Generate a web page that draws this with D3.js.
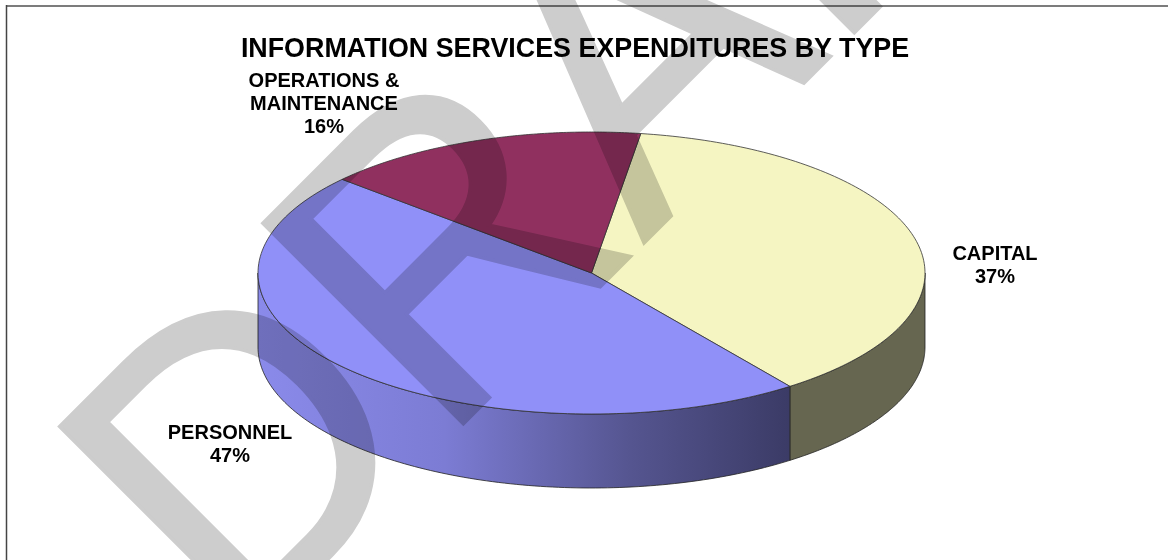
<!DOCTYPE html>
<html><head><meta charset="utf-8">
<script src="https://cdnjs.cloudflare.com/ajax/libs/d3/7.8.5/d3.min.js"></script>
<style>html,body{margin:0;padding:0;background:#fff}svg{display:block}text{font-family:"Liberation Sans",Arial,sans-serif}</style>
</head><body><svg id="c" width="1168" height="560"></svg>
<script>
const categories = ["CAPITAL","PERSONNEL","OPERATIONS & MAINTENANCE"];
const values = [37.5,46.7,15.8];
const topColors = ["#f5f5c2","#9090f8","#90305f"];
const sideStops = [[0,"#8a8aea"],[0.35,"#7c7cd4"],[0.7,"#555590"],[1,"#3b3b66"]];
const capitalSide = "#666650";
const titleText = "INFORMATION SERVICES EXPENDITURES BY TYPE";
const labels = [
 {lines:["CAPITAL","37%"],x:995,y:260},
 {lines:["PERSONNEL","47%"],x:230,y:439},
 {lines:["OPERATIONS &","MAINTENANCE","16%"],x:324,y:87}
];
const cx=591.5,cy=273,rx=333.5,ry=141,depth=74;
const svg=d3.select("#c");
svg.append("path").attr("d","M6,6H1168").attr("fill","none").attr("stroke","#7c7c7c").attr("stroke-width",2);
svg.append("path").attr("d","M6.5,5V560").attr("fill","none").attr("stroke","#444").attr("stroke-width",1.5);
const deg=Math.PI/180;
const slices=d3.pie().sort(null).startAngle(8.5*deg).endAngle((360+8.5)*deg).value(d=>d)(values);
const px=a=>cx+rx*Math.sin(a), py=a=>cy-ry*Math.cos(a);
const sweep=(a,b)=>d3.range(0,121).map(i=>a+(b-a)*i/120);
const defs=svg.append("defs");
const g=defs.append("linearGradient").attr("id","side").attr("gradientUnits","userSpaceOnUse")
 .attr("x1",cx-rx).attr("x2",px(slices[0].endAngle)).attr("y1",0).attr("y2",0);
sideStops.forEach(s=>g.append("stop").attr("offset",s[0]).attr("stop-color",s[1]));
const line=d3.line();
slices.forEach((s,i)=>{
 const a=Math.max(s.startAngle,90*deg), b=Math.min(s.endAngle,270*deg);
 if(b<=a) return;
 const arc=sweep(a,b);
 const pts=arc.map(t=>[px(t),py(t)]).concat(arc.slice().reverse().map(t=>[px(t),py(t)+depth]));
 svg.append("path").attr("d",line(pts)+"Z").attr("fill",i===0?capitalSide:"url(#side)").attr("stroke","#222").attr("stroke-width",0.8);
});
slices.forEach((s,i)=>{
 const pts=[[cx,cy]].concat(sweep(s.startAngle,s.endAngle).map(t=>[px(t),py(t)]));
 svg.append("path").attr("d",line(pts)+"Z").attr("fill",topColors[i]).attr("stroke","#333").attr("stroke-width",0.8);
});
svg.append("text").attr("x",575).attr("y",57).attr("text-anchor","middle").attr("font-size",26.85).attr("font-weight","bold").text(titleText);
labels.forEach(l=>{
 l.lines.forEach((t,j)=>svg.append("text").attr("x",l.x).attr("y",l.y+j*23).attr("text-anchor","middle").attr("font-size",20).attr("font-weight","bold").text(t));
});
svg.append("text").attr("transform","translate(237,650) rotate(-45) scale(0.995,1.03)").attr("font-size",400).attr("fill","#cdcdcd").attr("stroke","#cdcdcd").attr("stroke-width",3.5).style("mix-blend-mode","multiply").text("DRAFT");
</script></body></html>
